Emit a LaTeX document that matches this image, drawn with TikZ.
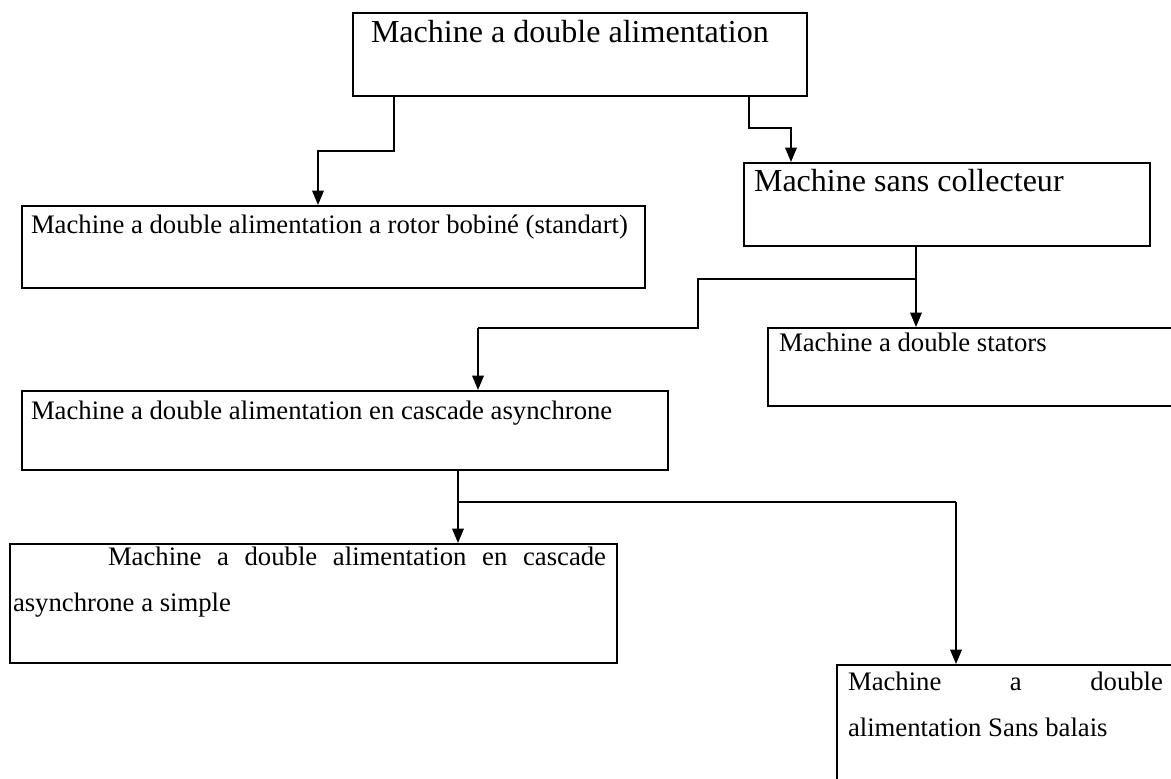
\documentclass[tikz,border=0pt]{standalone}
\usepackage{fontspec}
\setmainfont{Liberation Serif}
\usepackage{tikz}
\usetikzlibrary{arrows.meta}
\newdimen\pxu \pxu=0.4494pt

\begin{document}
\begin{tikzpicture}[x=0.4494pt,y=-0.4494pt,
  mbox/.style={draw,line width=0.9pt,anchor=north west,inner sep=0pt,align=none,
    font=\fontsize{12pt}{20.7pt}\selectfont},
  big/.style={font=\fontsize{14.4pt}{17pt}\selectfont},
  link/.style={line width=0.8pt,-{Triangle[length=6.5pt,width=5.2pt]}},
  thin/.style={line width=0.55pt}]
\useasboundingbox (0,0) rectangle (1171,778);
\clip (0,0) rectangle (1171,778);
% boxes
\node[mbox,big,text width=454\pxu,text height=29.7\pxu,text depth=53.3\pxu] (mda) at (352,12)
  {\hspace*{18\pxu}Machine a double alimentation};
\node[mbox,text width=623\pxu,text height=27.7\pxu,text depth=54.3\pxu] (rotor) at (21,205)
  {\hspace*{9\pxu}Machine a double alimentation a rotor bobiné (standart)};
\node[mbox,big,text width=406\pxu,text height=28.7\pxu,text depth=54.3\pxu] (sanscol) at (743,162)
  {\hspace*{10\pxu}Machine sans collecteur};
\node[mbox,text width=418\pxu,text height=23.7\pxu,text depth=54.3\pxu] (stators) at (767,327)
  {\hspace*{11\pxu}Machine a double stators};
\node[mbox,text width=646\pxu,text height=28.3\pxu,text depth=50.7\pxu] (cascade) at (21,390)
  {\hspace*{9\pxu}Machine a double alimentation en cascade asynchrone};
\node[mbox,text width=607\pxu,text height=21\pxu,text depth=98\pxu] (simple) at (9,543)
  {\leftskip=3\pxu\rightskip=11\pxu\hspace*{95\pxu}Machine a double alimentation en cascade\linebreak asynchrone a simple\par};
\node[mbox,text width=349\pxu,text height=25\pxu,text depth=101\pxu] (balais) at (836,664)
  {\leftskip=11\pxu\rightskip=23\pxu Machine a double\linebreak alimentation Sans balais\par};
% elbows
\coordinate (k1) at (394,151);
\coordinate (k2) at (318,151);
\coordinate (k3) at (749,128);
\coordinate (k4) at (791,128);
\coordinate (k5) at (916,279);
\coordinate (k6) at (698,328);
\coordinate (k7) at (478,328);
\coordinate (k8) at (458,502);
\coordinate (k9) at (956,502);
% connectors
\draw[link] (mda.south -| k1) |- (k2) -- (k2 |- rotor.north);
\draw[link] (mda.south -| k3) |- (k4) -- (k4 |- sanscol.north);
\draw[link] (sanscol.south -| k5) -- (k5 |- stators.north);
\draw[thin] (k5) -| (k6) -- (k7);
\draw[link] (k7) -- (k7 |- cascade.north);
\draw[link] (cascade.south -| k8) -- (k8 |- simple.north);
\draw[thin] (k8) -- (k9);
\draw[link] (k9) -- (k9 |- balais.north);
\end{tikzpicture}
\end{document}
